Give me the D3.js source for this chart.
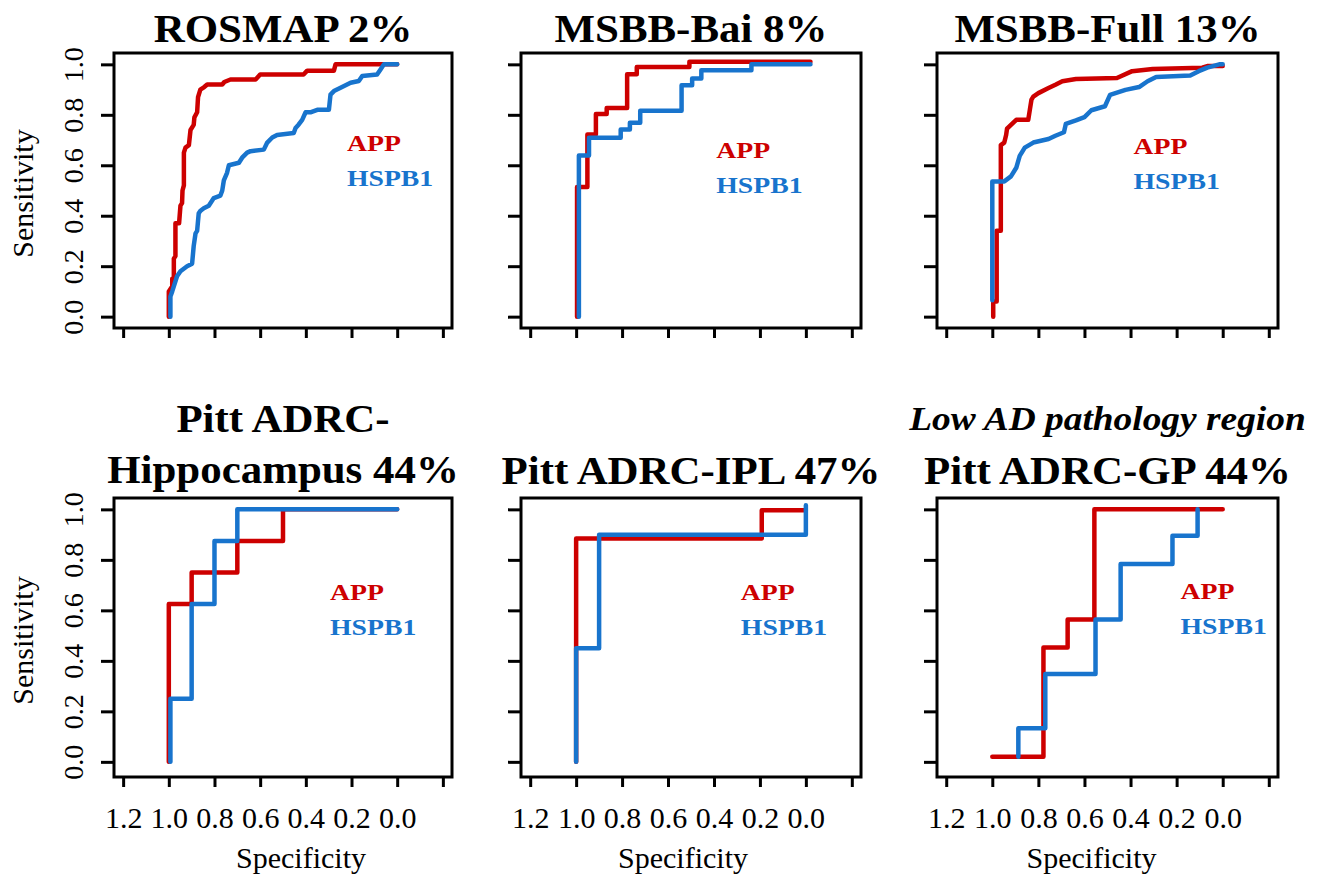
<!DOCTYPE html>
<html>
<head>
<meta charset="utf-8">
<script src="https://cdn.jsdelivr.net/npm/d3@7"></script>
<style>
  body { margin: 0; background: #fff; }
  svg { display: block; }
  text { font-family: "Liberation Serif", "Times New Roman", serif; }
</style>
</head>
<body>
<script>
// ROC curves, [specificity, sensitivity] vertices
const rosmapApp = [[1.0,0],[1.0,0.10],[0.985,0.12],[0.985,0.15],[0.978,0.15],[0.978,0.23],[0.971,0.24],[0.971,0.37],[0.955,0.37],[0.949,0.44],[0.942,0.45],[0.94,0.50],[0.934,0.52],[0.934,0.65],[0.927,0.67],[0.912,0.68],[0.905,0.74],[0.891,0.76],[0.888,0.79],[0.876,0.81],[0.872,0.87],[0.862,0.90],[0.845,0.91],[0.832,0.92],[0.766,0.92],[0.757,0.93],[0.73,0.94],[0.62,0.94],[0.60,0.96],[0.41,0.96],[0.394,0.975],[0.277,0.975],[0.27,1.0],[0.0,1.0]];
const rosmapHspb1 = [[0.993,0],[0.993,0.08],[0.985,0.10],[0.978,0.12],[0.964,0.16],[0.949,0.18],[0.92,0.20],[0.898,0.21],[0.891,0.28],[0.883,0.33],[0.876,0.34],[0.869,0.41],[0.861,0.42],[0.847,0.43],[0.825,0.44],[0.803,0.47],[0.774,0.48],[0.766,0.50],[0.759,0.54],[0.745,0.57],[0.737,0.60],[0.693,0.61],[0.679,0.63],[0.657,0.65],[0.642,0.656],[0.584,0.662],[0.569,0.69],[0.547,0.71],[0.526,0.72],[0.453,0.728],[0.445,0.748],[0.431,0.762],[0.416,0.78],[0.401,0.81],[0.38,0.81],[0.35,0.82],[0.299,0.82],[0.292,0.88],[0.277,0.894],[0.248,0.907],[0.204,0.927],[0.168,0.934],[0.153,0.954],[0.088,0.96],[0.073,0.98],[0.058,1.0],[0.0,1.0]];

const baiApp = [[0.996,0],[0.996,0.514],[0.951,0.514],[0.951,0.722],[0.914,0.722],[0.914,0.803],[0.867,0.803],[0.867,0.827],[0.778,0.827],[0.778,0.961],[0.736,0.961],[0.736,0.99],[0.507,0.99],[0.507,1.01],[-0.02,1.01]];
const baiHspb1 = [[0.988,0],[0.988,0.639],[0.944,0.639],[0.944,0.709],[0.806,0.709],[0.806,0.742],[0.766,0.742],[0.766,0.769],[0.721,0.769],[0.721,0.816],[0.541,0.816],[0.541,0.917],[0.495,0.917],[0.495,0.944],[0.455,0.944],[0.455,0.977],[0.237,0.977],[0.237,1.0],[-0.02,1.0]];

const fullApp = [[0.996,0],[0.996,0.06],[0.981,0.06],[0.981,0.34],[0.963,0.34],[0.963,0.68],[0.948,0.69],[0.94,0.72],[0.936,0.745],[0.919,0.76],[0.896,0.78],[0.844,0.78],[0.837,0.82],[0.83,0.86],[0.822,0.872],[0.8,0.886],[0.756,0.906],[0.726,0.919],[0.696,0.933],[0.637,0.942],[0.459,0.946],[0.393,0.973],[0.304,0.982],[0.089,0.987],[0.067,0.993],[0.0,0.993]];
const fullHspb1 = [[1.0,0.065],[1.0,0.536],[0.948,0.536],[0.919,0.556],[0.896,0.59],[0.881,0.637],[0.859,0.67],[0.822,0.69],[0.756,0.704],[0.726,0.717],[0.689,0.731],[0.681,0.764],[0.637,0.778],[0.6,0.791],[0.57,0.818],[0.511,0.834],[0.489,0.879],[0.422,0.899],[0.363,0.91],[0.326,0.933],[0.289,0.95],[0.141,0.956],[0.104,0.973],[0.067,0.987],[0.015,1.0],[0.0,1.0]];

const hippoApp = [[1.0,0],[1.0,0.625],[0.9,0.625],[0.9,0.75],[0.7,0.75],[0.7,0.875],[0.5,0.875],[0.5,1.0],[0.0,1.0]];
const hippoHspb1 = [[0.993,0],[0.993,0.25],[0.9,0.25],[0.9,0.625],[0.8,0.625],[0.8,0.875],[0.7,0.875],[0.7,1.0],[0.0,1.0]];

const iplApp = [[1.0,0],[1.0,0.885],[0.192,0.885],[0.192,0.996],[0.0,0.996]];
const iplHspb1 = [[1.0,0],[1.0,0.45],[0.9,0.45],[0.9,0.899],[0.0,0.899],[0.0,1.016]];

const gpApp = [[1.0,0.02],[0.778,0.02],[0.778,0.453],[0.673,0.453],[0.673,0.564],[0.557,0.564],[0.557,1.0],[0.0,1.0]];
const gpHspb1 = [[0.887,0.02],[0.887,0.133],[0.77,0.133],[0.77,0.348],[0.552,0.348],[0.552,0.564],[0.443,0.564],[0.443,0.784],[0.218,0.784],[0.218,0.895],[0.109,0.895],[0.109,1.0]];

const xTicks = [1.2, 1.0, 0.8, 0.6, 0.4, 0.2, 0.0, -0.2];
const yTicks = [0.0, 0.2, 0.4, 0.6, 0.8, 1.0];
const seriesNames = ["APP", "HSPB1"];

const w = 1326;
const h = 875;
const appColor = "#cd0000";
const hspColor = "#1874cd";
const font = '"Liberation Serif", "Times New Roman", serif';

const cols = [{ left: 114, right: 452 }, { left: 521, right: 861 }, { left: 937, right: 1278 }];
const rows = [
  { top: 53, bottom: 328, yDomain: [-0.045, 1.045] },
  { top: 498, bottom: 777, yDomain: [-0.06, 1.045] },
];
const xTitleShift = [18, -8, -16];

const panels = [
  { col: 0, row: 0, title: [{ t: "ROSMAP 2%", y: 42 }], app: rosmapApp, hsp: rosmapHspb1, leg: [0.22, 0.655] },
  { col: 1, row: 0, title: [{ t: "MSBB-Bai 8%", y: 42 }], app: baiApp, hsp: baiHspb1, leg: [0.39, 0.63] },
  { col: 2, row: 0, title: [{ t: "MSBB-Full 13%", y: 42 }], app: fullApp, hsp: fullHspb1, leg: [0.387, 0.645] },
  { col: 0, row: 1, title: [{ t: "Pitt ADRC-", y: 432 }, { t: "Hippocampus 44%", y: 483 }], app: hippoApp, hsp: hippoHspb1, leg: [0.294, 0.64] },
  { col: 1, row: 1, title: [{ t: "Pitt ADRC-IPL 47%", y: 484 }], app: iplApp, hsp: iplHspb1, leg: [0.283, 0.64] },
  { col: 2, row: 1, title: [{ t: "Low AD pathology region", y: 430, italic: true }, { t: "Pitt ADRC-GP 44%", y: 484 }], app: gpApp, hsp: gpHspb1, leg: [0.183, 0.644] },
];

const svg = d3.select("body").append("svg").attr("width", w).attr("height", h);
svg.append("rect").attr("width", w).attr("height", h).attr("fill", "#fff");

// bold text in the figure is a bit wider than plain Times, so squeeze it out sideways
const addText = (g, str, x, y, size, sx, anchor, opts = {}) => {
  return g
    .append("text")
    .attr("transform", `translate(${x},${y}) scale(${sx},1)`)
    .attr("text-anchor", anchor)
    .attr("font-size", size)
    .attr("font-weight", opts.weight || "normal")
    .attr("font-style", opts.italic ? "italic" : "normal")
    .attr("fill", opts.fill || "#000")
    .text(str);
};

const line = (xScale, yScale) =>
  d3.line().x((d) => xScale(d[0])).y((d) => yScale(d[1]));

const drawCurve = (g, data, color, xScale, yScale) => {
  g.append("path")
    .datum(data)
    .attr("d", line(xScale, yScale))
    .attr("fill", "none")
    .attr("stroke", color)
    .attr("stroke-width", 4.5)
    .attr("stroke-linejoin", "round")
    .attr("stroke-linecap", "round");
};

panels.forEach((p) => {
  const c = cols[p.col];
  const r = rows[p.row];
  const g = svg.append("g");
  const cx = (c.left + c.right) / 2;

  const xScale = d3.scaleLinear().domain([1.24, -0.24]).range([c.left, c.right]);
  const yScale = d3.scaleLinear().domain(r.yDomain).range([r.bottom, r.top]);

  // titles
  p.title.forEach((t) => {
    if (t.italic) {
      addText(g, t.t, cx, t.y, 34, 1.1, "middle", { weight: "bold", italic: true });
    } else {
      addText(g, t.t, cx, t.y, 39, 1.1, "middle", { weight: "bold" });
    }
  });

  drawCurve(g, p.app, appColor, xScale, yScale);
  drawCurve(g, p.hsp, hspColor, xScale, yScale);

  // axes
  const xAxis = d3
    .axisBottom(xScale)
    .tickValues(xTicks)
    .tickSize(10)
    .tickSizeOuter(0)
    .tickFormat((d) => (p.row === 1 && d >= 0 ? d3.format(".1f")(d) : ""));
  const gx = g.append("g").attr("transform", `translate(0,${r.bottom})`).call(xAxis);
  gx.select(".domain").remove();
  gx.selectAll("line").attr("stroke", "#000").attr("stroke-width", 3);
  gx.selectAll("text")
    .attr("y", 51)
    .attr("dy", 0)
    .attr("font-size", 30)
    .attr("font-family", font)
    .attr("fill", "#000");

  const yAxis = d3
    .axisLeft(yScale)
    .tickValues(yTicks)
    .tickSize(13)
    .tickSizeOuter(0)
    .tickFormat((d) => (p.col === 0 ? d3.format(".1f")(d) : ""));
  const gy = g.append("g").attr("transform", `translate(${c.left},0)`).call(yAxis);
  gy.select(".domain").remove();
  gy.selectAll("line").attr("stroke", "#000").attr("stroke-width", 3);
  gy.selectAll("text")
    .attr("transform", "rotate(-90)")
    .attr("x", 0)
    .attr("y", -31)
    .attr("dy", 0)
    .attr("text-anchor", "middle")
    .attr("font-size", 28)
    .attr("font-family", font)
    .attr("fill", "#000");

  // frame
  g.append("rect")
    .attr("x", c.left)
    .attr("y", r.top)
    .attr("width", c.right - c.left)
    .attr("height", r.bottom - r.top)
    .attr("fill", "none")
    .attr("stroke", "#000")
    .attr("stroke-width", 3);

  // axis titles
  if (p.col === 0) {
    g.append("text")
      .attr("transform", `translate(33,${(r.top + r.bottom) / 2 + 3}) rotate(-90)`)
      .attr("text-anchor", "middle")
      .attr("font-size", 30)
      .text("Sensitivity");
  }
  if (p.row === 1) {
    g.append("text")
      .attr("x", cx + xTitleShift[p.col])
      .attr("y", r.bottom + 91)
      .attr("text-anchor", "middle")
      .attr("font-size", 30)
      .text("Specificity");
  }

  // legend
  const lx = xScale(p.leg[0]);
  const ly = yScale(p.leg[1]);
  addText(g, seriesNames[0], lx, ly, 23.5, 1.18, "start", { weight: "bold", fill: appColor });
  addText(g, seriesNames[1], lx, ly + 35, 23.5, 1.18, "start", { weight: "bold", fill: hspColor });
});
</script>
</body>
</html>
